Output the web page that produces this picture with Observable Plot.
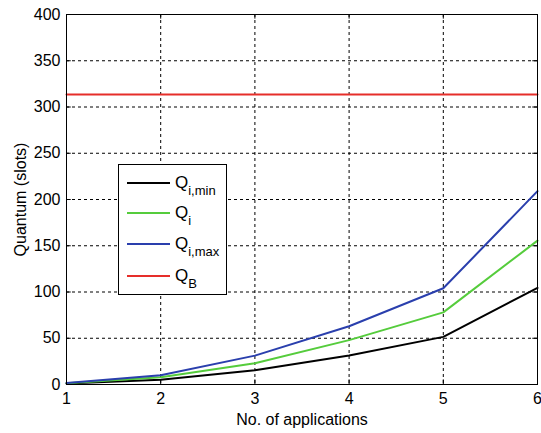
<!DOCTYPE html>
<html>
<head>
<meta charset="utf-8">
<script src="https://cdn.jsdelivr.net/npm/d3@7"></script>
<script src="https://cdn.jsdelivr.net/npm/@observablehq/plot@0.6"></script>
<style>
  body { margin: 0; background: #fff; }
  #wrap { position: relative; width: 541px; height: 433px; font-family: "Liberation Sans", Arial, sans-serif; }
  #legend { position: absolute; left: 118px; top: 164px; }
</style>
</head>
<body>
<div id="wrap"><div id="chart"></div><div id="legend"></div></div>
<script>
const apps = [1, 2, 3, 4, 5, 6];
const qMin = [1, 5.2, 15.4, 31.3, 51.5, 104.5];
const qI   = [1.3, 7.9, 23, 48, 78, 155.5];
const qMax = [1.6, 10, 31.2, 63, 104, 209];
const qB = 313.6;
const yTicks = [0, 50, 100, 150, 200, 250, 300, 350, 400];
const xTicks = [1, 2, 3, 4, 5, 6];
const seriesNames = ["Qi,min", "Qi", "Qi,max", "QB"];
const seriesColors = ["#000000", "#55cc3c", "#2a3fad", "#e62e2a"];

const rows = [];
apps.forEach((a, i) => {
  rows.push({x: a, y: qMin[i], s: seriesNames[0]});
  rows.push({x: a, y: qI[i], s: seriesNames[1]});
  rows.push({x: a, y: qMax[i], s: seriesNames[2]});
});
const bRows = [{x: apps[0], y: qB}, {x: apps[apps.length - 1], y: qB}];

const chart = Plot.plot({
  width: 541,
  height: 433,
  marginLeft: 66,
  marginRight: 4,
  marginTop: 14,
  marginBottom: 49,
  style: {fontFamily: '"Liberation Sans", Arial, sans-serif', fontSize: "16px", color: "#000", background: "#fff"},
  x: {domain: [1, 6]},
  y: {domain: [0, 400]},
  color: {domain: seriesNames, range: seriesColors},
  marks: [
    Plot.gridX(xTicks.slice(1, -1), {stroke: "#000", strokeOpacity: 1, strokeDasharray: "3,3", strokeWidth: 1}),
    Plot.gridY(yTicks.slice(1, -1), {stroke: "#000", strokeOpacity: 1, strokeDasharray: "3,3", strokeWidth: 1}),
    Plot.ruleX(xTicks, {y1: 0, y2: 5, stroke: "#000"}),
    Plot.ruleX(xTicks, {y1: 395, y2: 400, stroke: "#000"}),
    Plot.ruleY(yTicks, {x1: 1, x2: 1.05, stroke: "#000"}),
    Plot.ruleY(yTicks, {x1: 5.95, x2: 6, stroke: "#000"}),
    Plot.line(bRows, {x: "x", y: "y", stroke: seriesColors[3], strokeWidth: 2}),
    Plot.line(rows, {x: "x", y: "y", z: "s", stroke: "s", strokeWidth: 2}),
    Plot.axisY({ticks: yTicks, tickSize: 0, tickPadding: 6, tickFormat: d => String(d), label: "Quantum (slots)", labelAnchor: "center", labelArrow: "none", labelOffset: 52, fontSize: 16}),
    Plot.axisX({ticks: xTicks, tickSize: 0, tickPadding: 8, tickFormat: d => String(d), label: "No. of applications", labelAnchor: "center", labelArrow: "none", labelOffset: 40, fontSize: 16}),
    Plot.frame({stroke: "#000", strokeWidth: 1})
  ]
});
document.getElementById("chart").appendChild(chart);

// Legend
const lw = 109, lh = 131;
const lsvg = d3.select("#legend").append("svg").attr("width", lw).attr("height", lh)
  .style("font-family", '"Liberation Sans", Arial, sans-serif');
lsvg.append("rect").attr("x", 0.5).attr("y", 0.5).attr("width", lw - 1).attr("height", lh - 1)
  .attr("fill", "#fff").attr("stroke", "#000");
const subs = ["i,min", "i", "i,max", "B"];
const rowY = [19, 49, 80, 112];
subs.forEach((sub, i) => {
  lsvg.append("line").attr("x1", 9).attr("x2", 52).attr("y1", rowY[i]).attr("y2", rowY[i])
    .attr("stroke", seriesColors[i]).attr("stroke-width", 2);
  const t = lsvg.append("text").attr("x", 57).attr("y", rowY[i] + 5).attr("font-size", 17).attr("fill", "#000");
  t.append("tspan").text("Q");
  t.append("tspan").attr("dy", 7).attr("font-size", 13).text(sub);
});
</script>
</body>
</html>
